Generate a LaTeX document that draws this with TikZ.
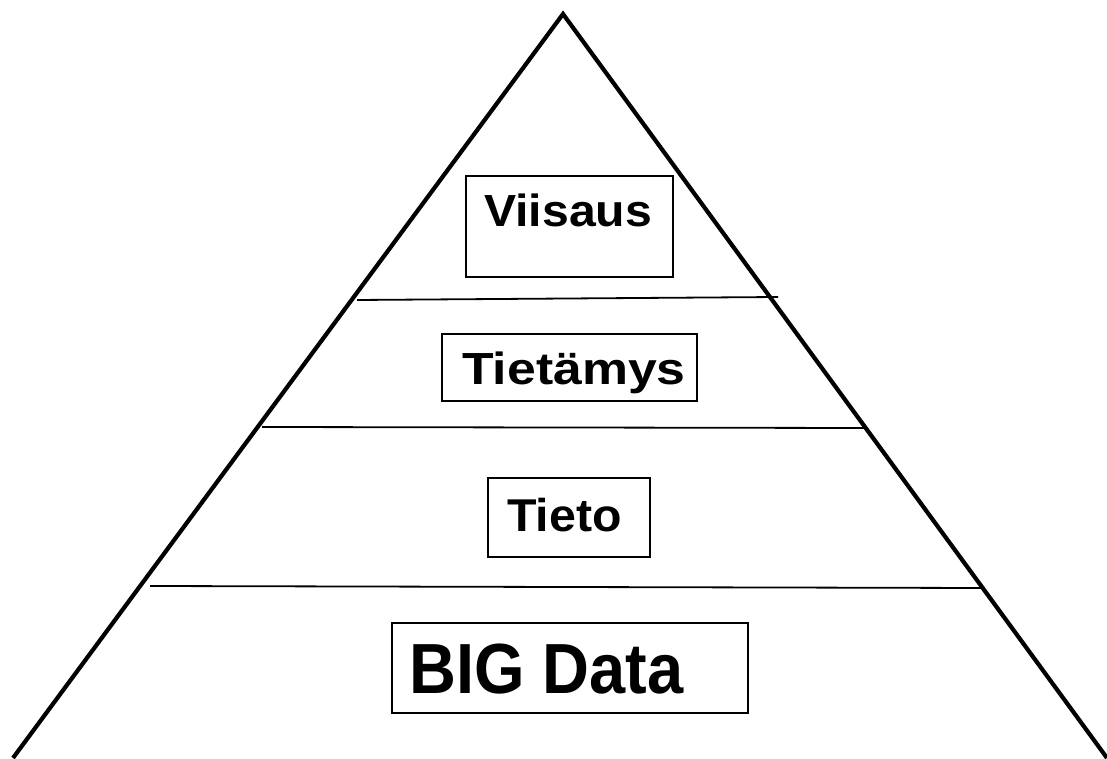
\documentclass[tikz,border=0pt]{standalone}
\usepackage{fontspec}
\setmainfont{Liberation Sans}
\begin{document}
\begin{tikzpicture}[x=1pt,y=1pt,
  edge/.style={line width=4.2pt},
  tier/.style={line width=1.8pt},
  lbox/.style={draw, line width=1.2pt, inner sep=0pt},
  lbl/.style={anchor=base west, inner sep=0pt, font=\bfseries}]
\useasboundingbox (0,0) rectangle (1107,758);
% pyramid
\coordinate (apex) at (563,744);
\coordinate (bl) at (13,0);
\coordinate (br) at (1107,0);
\draw[edge, line join=miter] (bl) -- (apex) -- (br);
% tier lines
\coordinate (l1a) at (357,458); \coordinate (l1b) at (778,461);
\coordinate (l2a) at (262,331); \coordinate (l2b) at (865,330);
\coordinate (l3a) at (150,172); \coordinate (l3b) at (984,170);
\draw[tier] (l1a) -- (l1b);
\draw[tier] (l2a) -- (l2b);
\draw[tier] (l3a) -- (l3b);
% boxes
\node[lbox, minimum width=207pt, minimum height=101pt] (b1) at (569.5,531.5) {};
\node[lbox, minimum width=255pt, minimum height=67pt] (b2) at (569.5,390.5) {};
\node[lbox, minimum width=162pt, minimum height=79pt] (b3) at (569,240.5) {};
\node[lbox, minimum width=356pt, minimum height=90pt] (b4) at (570,90) {};
% labels
\node[lbl] (t1) at (484,531) {\fontsize{45}{50}\selectfont\scalebox{1.07}[1]{Viisaus}};
\node[lbl] (t2) at (462,373) {\fontsize{45}{50}\selectfont\scalebox{1.15}[1]{Tietämys}};
\node[lbl] (t3) at (507,227) {\fontsize{46}{50}\selectfont\scalebox{1.05}[1]{Tieto}};
\node[lbl] (t4) at (409,65) {\fontsize{71}{76}\selectfont\scalebox{0.915}[1]{BIG Data}};
\end{tikzpicture}
\end{document}
